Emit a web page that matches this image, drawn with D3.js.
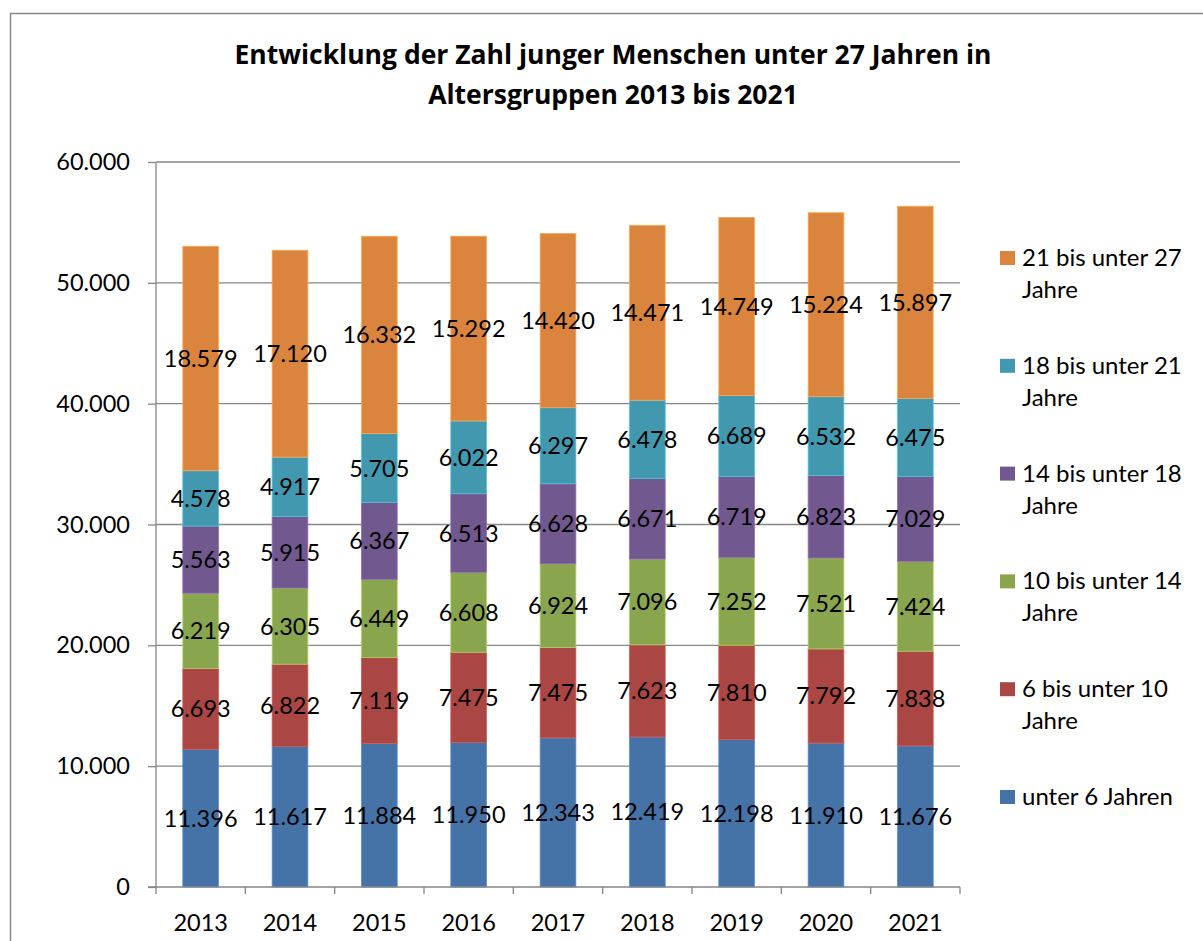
<!DOCTYPE html>
<html>
<head>
<meta charset="utf-8">
<script src="https://cdnjs.cloudflare.com/ajax/libs/d3/7.8.5/d3.min.js"></script>
<style>
  body { margin: 0; background: #fff; }
  svg { display: block; font-family: Lato, "Open Sans", sans-serif; }
  .lbl { font-size: 23.5px; fill: #000; }
  .leg { font-size: 24px; fill: #000; }
  .axis text { font-size: 23.5px; fill: #000; font-family: Lato, sans-serif; }
  .axis path, .axis line { stroke: #868686; stroke-width: 1.3; }
</style>
</head>
<body>
<svg id="chart" width="1203" height="941"></svg>
<script>
// data
var years = ["2013", "2014", "2015", "2016", "2017", "2018", "2019", "2020", "2021"];
var groups = ["unter 6 Jahren", "6 bis unter 10 Jahre", "10 bis unter 14 Jahre",
              "14 bis unter 18 Jahre", "18 bis unter 21 Jahre", "21 bis unter 27 Jahre"];
var under6   = [11396, 11617, 11884, 11950, 12343, 12419, 12198, 11910, 11676];
var from6    = [6693, 6822, 7119, 7475, 7475, 7623, 7810, 7792, 7838];
var from10   = [6219, 6305, 6449, 6608, 6924, 7096, 7252, 7521, 7424];
var from14   = [5563, 5915, 6367, 6513, 6628, 6671, 6719, 6823, 7029];
var from18   = [4578, 4917, 5705, 6022, 6297, 6478, 6689, 6532, 6475];
var from21   = [18579, 17120, 16332, 15292, 14420, 14471, 14749, 15224, 15897];
var yTicks   = [0, 10000, 20000, 30000, 40000, 50000, 60000];
var colors   = ["#4572a7", "#aa4643", "#89a54e", "#71588f", "#4198af", "#db843d"];
var titleLines = ["Entwicklung der Zahl junger Menschen unter 27 Jahren in", "Altersgruppen 2013 bis 2021"];

var series = [under6, from6, from10, from14, from18, from21];

// table for the stack
var table = years.map(function (yr, i) {
    var row = { year: yr };
    groups.forEach(function (g, k) { row[g] = series[k][i]; });
    return row;
});

var de = d3.formatLocale({ decimal: ",", thousands: ".", grouping: [3], currency: ["", " €"] });
var fmt = de.format(",d");

var svg = d3.select("#chart");

// outer frame of the chart object
svg.append("path")
    .attr("d", "M10.5,960 V13.5 H1210")
    .attr("fill", "none")
    .attr("stroke", "#888")
    .attr("stroke-width", 1.5);

var plotLeft = 156, plotRight = 960, plotTop = 162, plotBottom = 887;

var x = d3.scaleBand()
    .domain(years)
    .range([plotLeft, plotRight])
    .paddingInner(0.6)
    .paddingOuter(0.3);

var y = d3.scaleLinear()
    .domain([0, 60000])
    .range([plotBottom, plotTop]);

// title
svg.append("g").selectAll("text")
    .data(titleLines)
    .enter().append("text")
    .attr("x", 613)
    .attr("y", function (d, i) { return 64 + i * 40; })
    .attr("text-anchor", "middle")
    .style("font-family", "'Open Sans', sans-serif")
    .style("font-size", "26.5px")
    .style("font-weight", "bold")
    .text(function (d) { return d; });

// gridlines
svg.append("g").selectAll("line")
    .data(yTicks.slice(1))
    .enter().append("line")
    .attr("x1", plotLeft).attr("x2", plotRight)
    .attr("y1", function (d) { return y(d); })
    .attr("y2", function (d) { return y(d); })
    .attr("stroke", "#868686")
    .attr("stroke-width", 1.3);

// y axis
var yAxis = svg.append("g")
    .attr("class", "axis")
    .attr("transform", "translate(" + plotLeft + ",0)")
    .call(d3.axisLeft(y).tickValues(yTicks).tickSize(8).tickPadding(18).tickFormat(fmt));
yAxis.select(".domain").attr("d", "M0," + plotTop + "V" + plotBottom);

// stacked bars
var stack = d3.stack().keys(groups);
var layers = stack(table);

var layer = svg.append("g").selectAll("g")
    .data(layers)
    .enter().append("g")
    .attr("fill", function (d, i) { return colors[i]; });

layer.selectAll("rect")
    .data(function (d) { return d; })
    .enter().append("rect")
    .attr("x", function (d) { return x(d.data.year); })
    .attr("width", x.bandwidth())
    .attr("y", function (d) { return y(d[1]); })
    .attr("height", function (d) { return y(d[0]) - y(d[1]); })
    .attr("stroke", function () { return d3.color(d3.select(this.parentNode).attr("fill")).brighter(0.7); })
    .attr("stroke-width", 0.8);

// value labels in the middle of each segment
layer.selectAll("text")
    .data(function (d) { return d; })
    .enter().append("text")
    .attr("class", "lbl")
    .attr("x", function (d) { return x(d.data.year) + x.bandwidth() / 2; })
    .attr("y", function (d) { return y((d[0] + d[1]) / 2); })
    .attr("dy", "0.36em")
    .attr("text-anchor", "middle")
    .text(function (d) { return fmt(d[1] - d[0]); });

// x axis: labels centred, ticks on the category borders
var xAxis = svg.append("g")
    .attr("class", "axis")
    .attr("transform", "translate(0," + plotBottom + ")")
    .call(d3.axisBottom(x).tickSize(0).tickPadding(27));
xAxis.select(".domain").attr("d", "M" + (plotLeft - 8) + ",0H" + plotRight);

var borders = years.map(function (d) { return x(d) - x.step() * 0.3; }).concat([plotRight]);
xAxis.selectAll(".border")
    .data(borders)
    .enter().append("line")
    .attr("class", "border")
    .attr("x1", function (d) { return d; })
    .attr("x2", function (d) { return d; })
    .attr("y1", 0).attr("y2", 7);

// legend, top entry is the last group
var legendItems = groups.slice().reverse();
var legend = svg.append("g").selectAll("g")
    .data(legendItems)
    .enter().append("g")
    .attr("transform", function (d, i) { return "translate(1000," + (266 + i * 107.8) + ")"; });

legend.append("rect")
    .attr("x", 0).attr("y", -15)
    .attr("width", 15).attr("height", 14)
    .attr("fill", function (d) { return colors[groups.indexOf(d)]; });

legend.append("text")
    .attr("class", "leg")
    .attr("x", 22)
    .each(function (d) {
        var parts = d === "unter 6 Jahren" ? [d] : [d.replace(" Jahre", ""), "Jahre"];
        d3.select(this).selectAll("tspan")
            .data(parts)
            .enter().append("tspan")
            .attr("x", 22)
            .attr("dy", function (p, i) { return i === 0 ? 0 : 32; })
            .text(function (p) { return p; });
    });
</script>
</body>
</html>
